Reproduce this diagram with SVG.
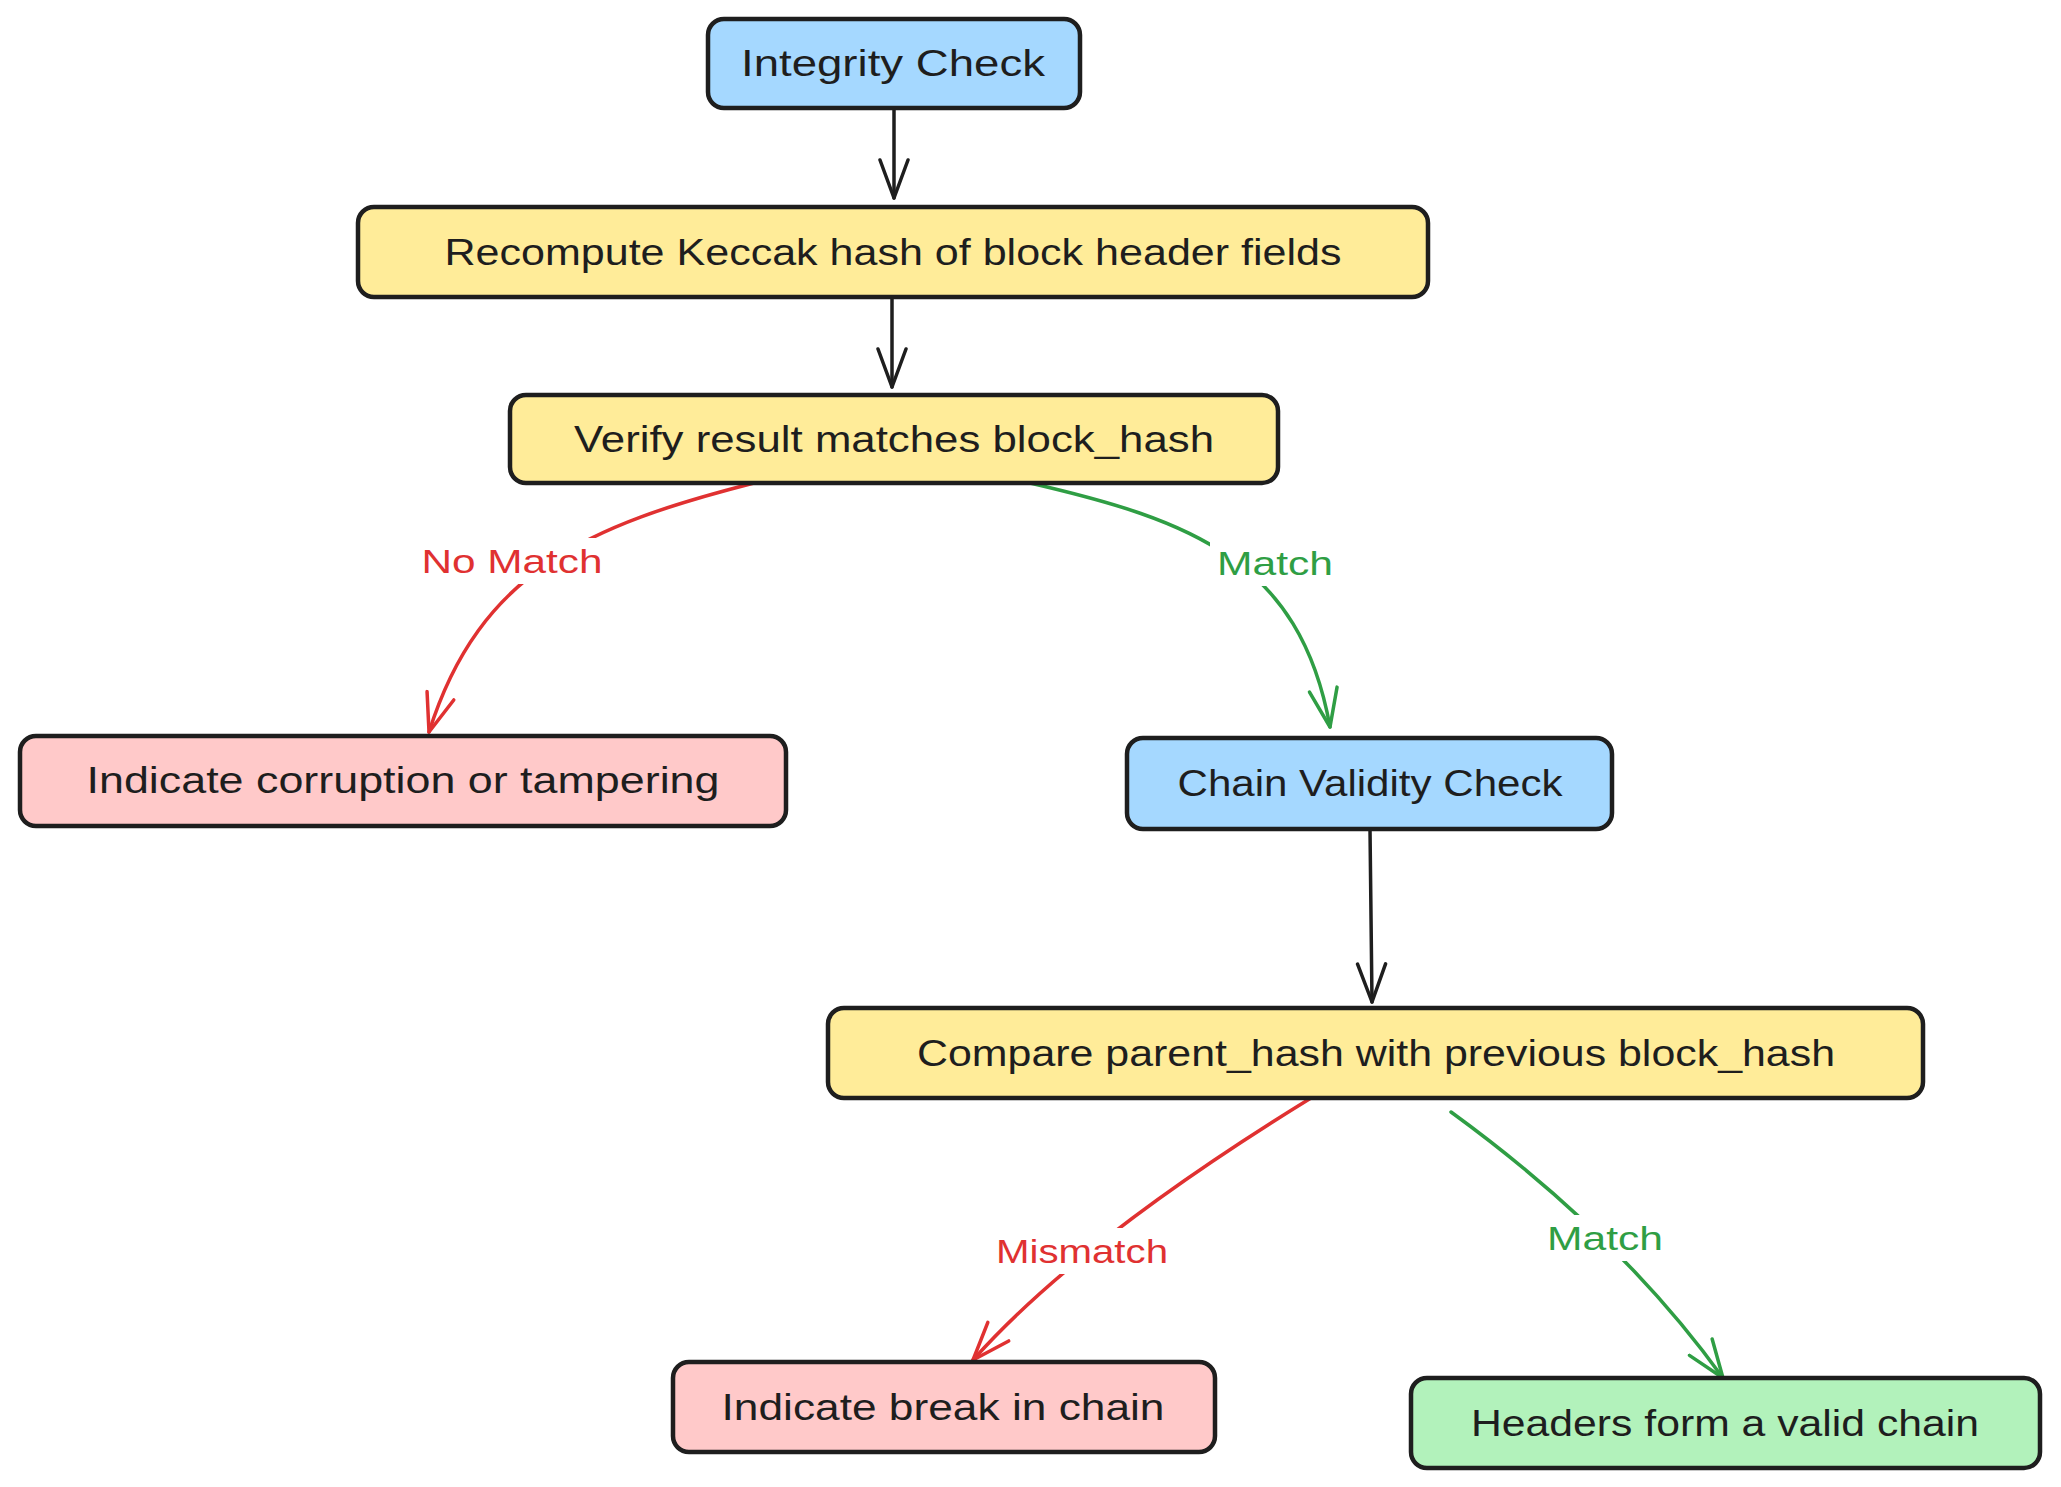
<svg xmlns="http://www.w3.org/2000/svg" width="2061" height="1487" viewBox="0 0 2061 1487">
<style>
.box{stroke:#1e1e1e;stroke-width:4.5;stroke-linejoin:round}
.blue{fill:#a5d8ff}.yellow{fill:#ffec99}.pink{fill:#ffc9c9}.green{fill:#b2f2bb}
.t{font-family:"Liberation Sans","DejaVu Sans",sans-serif;font-size:36px;fill:#1e1e1e;text-anchor:middle;dominant-baseline:central}
.e{fill:none;stroke-width:3.5;stroke-linecap:round}
.dark{stroke:#1e1e1e}.red{stroke:#e03131}.grn{stroke:#2f9e44}
.lbl{font-family:"Liberation Sans","DejaVu Sans",sans-serif;font-size:34px;text-anchor:middle;dominant-baseline:central}
.lr{fill:#e03131}.lg{fill:#2f9e44}
</style>
<defs>
<marker id="ad" markerUnits="userSpaceOnUse" markerWidth="50" markerHeight="50" refX="40" refY="20" orient="auto" viewBox="0 0 50 40">
<path d="M2,6 L40,20 L2,34" fill="none" stroke="#1e1e1e" stroke-width="3.5" stroke-linecap="round" stroke-linejoin="round"/>
</marker>
<marker id="ar" markerUnits="userSpaceOnUse" markerWidth="50" markerHeight="50" refX="40" refY="20" orient="auto" viewBox="0 0 50 40">
<path d="M2,6 L40,20 L2,34" fill="none" stroke="#e03131" stroke-width="3.5" stroke-linecap="round" stroke-linejoin="round"/>
</marker>
<marker id="ag" markerUnits="userSpaceOnUse" markerWidth="50" markerHeight="50" refX="40" refY="20" orient="auto" viewBox="0 0 50 40">
<path d="M2,6 L40,20 L2,34" fill="none" stroke="#2f9e44" stroke-width="3.5" stroke-linecap="round" stroke-linejoin="round"/>
</marker>
</defs>
<rect width="2061" height="1487" fill="#ffffff"/>
<g id="connectors">
<path class="e dark" d="M894,108 L894,198" marker-end="url(#ad)"/>
<path class="e dark" d="M892,297 L892,387" marker-end="url(#ad)"/>
<path class="e red" d="M754,483 C590,525 480,570 429,732" marker-end="url(#ar)"/>
<path class="e grn" d="M1030,483 C1190,520 1300,560 1330,727" marker-end="url(#ag)"/>
<path class="e dark" d="M1370,829 L1372,1002" marker-end="url(#ad)"/>
<path class="e red" d="M1311,1098 Q1080,1240 973,1360" marker-end="url(#ar)"/>
<path class="e grn" d="M1451,1112 Q1620,1235 1723,1378" marker-end="url(#ag)"/>
<g id="label-nomatch"><rect x="416" y="538" width="192" height="46" fill="#ffffff"/><text class="lbl lr" x="512" y="561" textLength="181" lengthAdjust="spacingAndGlyphs">No Match</text></g>
<g id="label-match1"><rect x="1210" y="540" width="130" height="46" fill="#ffffff"/><text class="lbl lg" x="1275" y="563" textLength="116" lengthAdjust="spacingAndGlyphs">Match</text></g>
<g id="label-mismatch"><rect x="990" y="1228" width="184" height="46" fill="#ffffff"/><text class="lbl lr" x="1082" y="1251" textLength="172" lengthAdjust="spacingAndGlyphs">Mismatch</text></g>
<g id="label-match2"><rect x="1540" y="1215" width="130" height="46" fill="#ffffff"/><text class="lbl lg" x="1605" y="1238" textLength="116" lengthAdjust="spacingAndGlyphs">Match</text></g>
</g>
<g id="integrity-check"><rect class="box blue" x="708" y="19" width="372" height="89" rx="16"/><text class="t" x="893" y="63" textLength="304" lengthAdjust="spacingAndGlyphs">Integrity Check</text></g>
<g id="recompute"><rect class="box yellow" x="358" y="207" width="1070" height="90" rx="16"/><text class="t" x="893" y="252" textLength="897" lengthAdjust="spacingAndGlyphs">Recompute Keccak hash of block header fields</text></g>
<g id="verify"><rect class="box yellow" x="510" y="395" width="768" height="88" rx="16"/><text class="t" x="894" y="439" textLength="640" lengthAdjust="spacingAndGlyphs">Verify result matches block_hash</text></g>
<g id="corruption"><rect class="box pink" x="20" y="736" width="766" height="90" rx="16"/><text class="t" x="403" y="780" textLength="633" lengthAdjust="spacingAndGlyphs">Indicate corruption or tampering</text></g>
<g id="chain-validity"><rect class="box blue" x="1127" y="738" width="485" height="91" rx="16"/><text class="t" x="1370" y="783" textLength="385" lengthAdjust="spacingAndGlyphs">Chain Validity Check</text></g>
<g id="compare"><rect class="box yellow" x="828" y="1008" width="1095" height="90" rx="16"/><text class="t" x="1376" y="1053" textLength="918" lengthAdjust="spacingAndGlyphs">Compare parent_hash with previous block_hash</text></g>
<g id="break"><rect class="box pink" x="673" y="1362" width="542" height="90" rx="16"/><text class="t" x="943" y="1407" textLength="443" lengthAdjust="spacingAndGlyphs">Indicate break in chain</text></g>
<g id="valid-chain"><rect class="box green" x="1411" y="1378" width="629" height="90" rx="16"/><text class="t" x="1725" y="1423" textLength="508" lengthAdjust="spacingAndGlyphs">Headers form a valid chain</text></g>
</svg>
